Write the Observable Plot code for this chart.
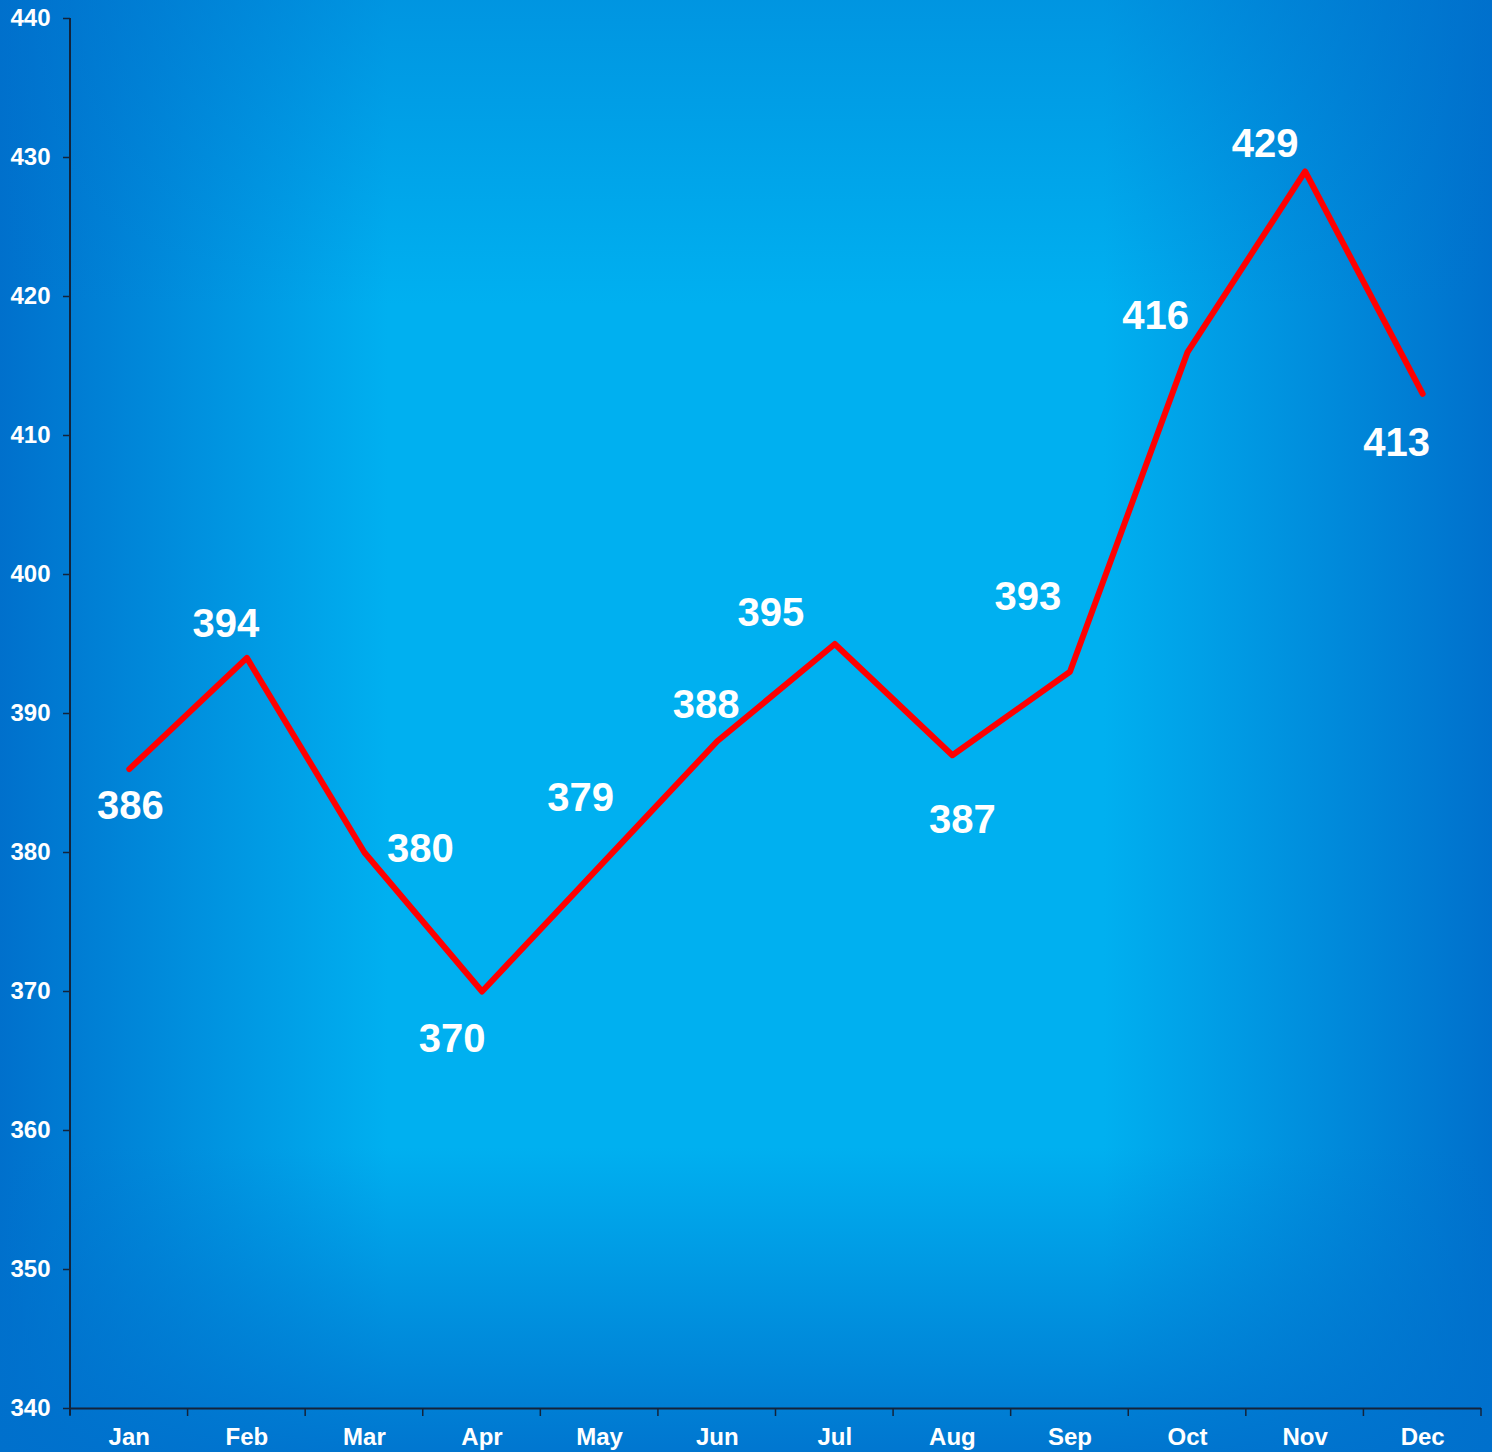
<!DOCTYPE html>
<html>
<head>
<meta charset="utf-8">
<script src="https://cdn.jsdelivr.net/npm/d3@7"></script>
<script src="https://cdn.jsdelivr.net/npm/@observablehq/plot@0.6"></script>
<style>
  html, body { margin: 0; padding: 0; background: #0070cc; }
  svg { display: block; }
</style>
</head>
<body>
<div id="chart"></div>
<script>
const months = ["Jan","Feb","Mar","Apr","May","Jun","Jul","Aug","Sep","Oct","Nov","Dec"];
const values = [386, 394, 380, 370, 379, 388, 395, 387, 393, 416, 429, 413];
const yTicks = [340, 350, 360, 370, 380, 390, 400, 410, 420, 430, 440];
// label offsets (px) relative to each point
const labelOffsets = [[1,37],[-21,-34],[56,-3],[-30,48],[-19,-68],[-11,-36],[-64,-31],[10,65],[-42,-75],[-32,-36],[-40,-27],[-26,49]];

const data = months.map((m, i) => ({month: m, value: values[i]}));
const font = "'Liberation Sans', Arial, sans-serif";
const axisColor = "#13233a";

const W = 1492, H = 1452;
const mL = 70, mR = 11, mT = 18, mB = 44;

const labelMarks = data.map((d, i) => Plot.text([d], {
  x: "month", y: "value", text: d => String(d.value),
  dx: labelOffsets[i][0], dy: labelOffsets[i][1],
  fill: "white", fontSize: 40, fontWeight: "bold",
  textAnchor: "middle", lineAnchor: "middle"
}));

const chart = Plot.plot({
  width: W, height: H,
  marginLeft: mL, marginRight: mR, marginTop: mT, marginBottom: mB,
  style: {
    fontFamily: font,
    background: "linear-gradient(to bottom, rgba(0,112,204,0.42) 0%, rgba(0,112,204,0) 21%, rgba(0,112,204,0) 79%, rgba(0,112,204,0.9) 100%), linear-gradient(to right, #0070cc 0%, #00b0f0 26%, #00b0f0 74%, #0070cc 100%)",
    overflow: "visible"
  },
  x: {type: "band", domain: months, padding: 0, round: false, label: null},
  y: {domain: [340, 440], label: null},
  marks: [
    Plot.axisY({ticks: yTicks, tickSize: 7, tickPadding: 13, fontSize: 24, fontWeight: "bold", fill: "white", stroke: axisColor, strokeWidth: 1.5, label: null}),
    Plot.axisX({tickSize: 0, tickPadding: 19, fontSize: 24, fontWeight: "bold", fill: "white", label: null}),
    Plot.ruleY([340], {stroke: axisColor, strokeWidth: 2}),
    Plot.line(data, {x: "month", y: "value", stroke: "#ff0000", strokeWidth: 6}),
    ...labelMarks
  ]
});

// y axis line and x boundary ticks, placed with the plot's own scales
const xs = chart.scale("x");
const ysc = chart.scale("y");
const svg = d3.select(chart);
const y0 = ysc.apply(340), y1 = ysc.apply(440);
svg.append("line").attr("x1", mL).attr("x2", mL).attr("y1", y1).attr("y2", y0 + 7)
  .attr("stroke", axisColor).attr("stroke-width", 2);
const bounds = months.map(m => xs.apply(m)).concat([xs.apply(months[months.length-1]) + xs.bandwidth]);
bounds.forEach(bx => {
  svg.append("line").attr("x1", bx).attr("x2", bx).attr("y1", y0).attr("y2", y0 + 8)
    .attr("stroke", axisColor).attr("stroke-width", 1.5);
});

document.getElementById("chart").appendChild(chart);
</script>
</body>
</html>
